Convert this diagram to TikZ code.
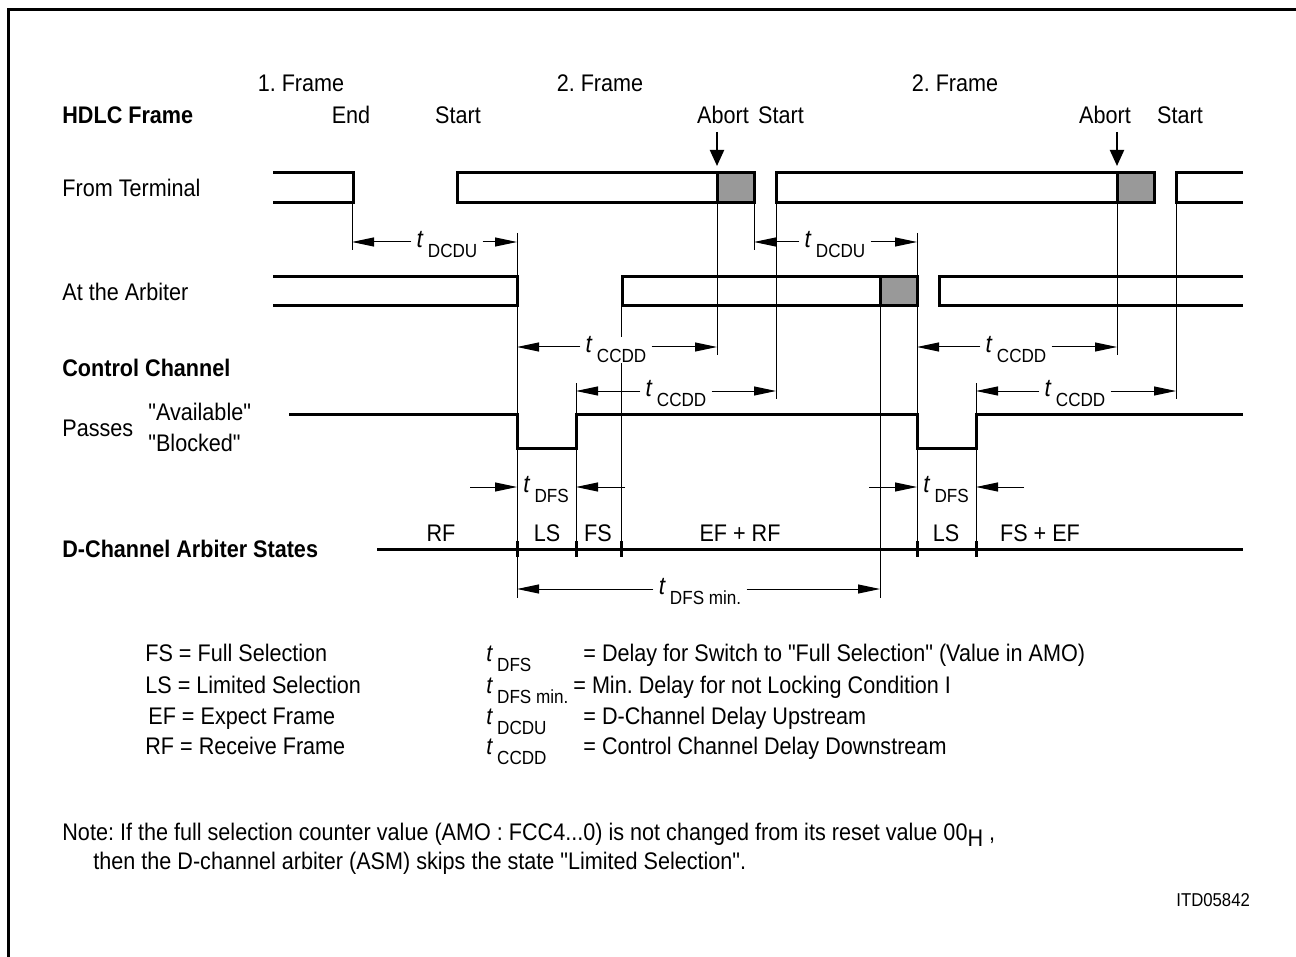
\documentclass[tikz,border=0pt]{standalone}
\usepackage{fontspec}
\setmainfont{Liberation Sans}[FakeStretch=0.9, Ligatures=TeXOff]
\usetikzlibrary{arrows.meta}
\definecolor{framegray}{gray}{0.6}
\frenchspacing
\newcommand{\tsub}[1]{\textit{t}\,\raisebox{-5pt}{\fontsize{9.5}{11}\selectfont #1}}
\newcommand{\dimline}[6]{%
  \coordinate (#1-l) at (#2,#4);
  \coordinate (#1-r) at (#3,#4);
  \node[dimlbl] (#1) at (#5,#4+3) {\tsub{#6}};
  \draw[dim] (#1.west |- #1-l) -- (#1-l);
  \draw[dim] (#1.east |- #1-r) -- (#1-r);
}
\newcommand{\guideline}[4]{%
  \coordinate (#1-t) at (#2,#3);
  \coordinate (#1-b) at (#2,#4);
  \draw[thinline] (#1-t) -- (#1-b);
}
\tikzset{
  txt/.style={inner sep=0pt, font=\fontsize{12}{14}\selectfont},
  lbl/.style={txt, anchor=base west},
  lblc/.style={txt, anchor=base},
  bold/.style={lbl, font=\fontsize{12}{14}\selectfont\bfseries},
  dimlbl/.style={fill=white, inner xsep=2.5pt, inner ysep=0pt, font=\fontsize{12.5}{14}\selectfont},
  framebox/.style={line width=1.5pt, line join=miter},
  grayfill/.style={fill=framegray},
  thinline/.style={line width=0.5pt},
  dim/.style={thinline, -{Triangle[length=11pt,width=4.5pt]}},
  abortarrow/.style={line width=1pt, -{Triangle[length=8pt,width=7pt]}},
  signal/.style={line width=1.5pt, line join=miter},
}
\begin{document}
\begin{tikzpicture}[x=0.5pt,y=-0.5pt]
\useasboundingbox (0,0) rectangle (1296,957);
% outer frame
\draw[line width=1.5pt] (8,957) -- (8,10) -- (1296,10);

% header labels
\node[bold] (hdlc) at (62,124) {HDLC Frame};
\node[lblc] (f1) at (301,92) {1. Frame};
\node[lblc] (end1) at (351,124) {End};
\node[lblc] (start1) at (458,124) {Start};
\node[lblc] (f2) at (600,92) {2. Frame};
\node[lblc] (abort1) at (723,124) {Abort};
\node[lblc] (start2) at (781,124) {Start};
\node[lblc] (f3) at (955,92) {2. Frame};
\node[lblc] (abort2) at (1105,124) {Abort};
\node[lblc] (start3) at (1180,124) {Start};

% abort arrows
\coordinate (ab1-t) at (717,132); \coordinate (ab1-b) at (717,166);
\coordinate (ab2-t) at (1117,132); \coordinate (ab2-b) at (1117,166);
\draw[abortarrow] (ab1-t) -- (ab1-b);
\draw[abortarrow] (ab2-t) -- (ab2-b);

% row labels
\node[lbl] (term) at (62,197) {From Terminal};
\node[lbl] (arb) at (62,300) {At the Arbiter};
\node[bold] (cc) at (62,376) {Control Channel};
\node[lbl] (passes) at (62,436) {Passes};
\node[lbl] (avail) at (148,420) {"Available"};
\node[lbl] (block) at (148,451) {"Blocked"};
\node[bold] (dcas) at (62,557) {D-Channel Arbiter States};

% From terminal frames
\draw[framebox] (273,173) -- (353,173) -- (353,203) -- (273,203);
\path[grayfill] (717,173) rectangle (754,203);
\draw[framebox] (457,173) rectangle (754,203);
\draw[framebox] (717,173) -- (717,203);
\path[grayfill] (1117,173) rectangle (1154,203);
\draw[framebox] (776,173) rectangle (1154,203);
\draw[framebox] (1117,173) -- (1117,203);
\draw[framebox] (1243,173) -- (1176,173) -- (1176,203) -- (1243,203);

% At the arbiter frames
\draw[framebox] (273,277) -- (517,277) -- (517,306) -- (273,306);
\path[grayfill] (880,277) rectangle (917,306);
\draw[framebox] (622,277) rectangle (917,306);
\draw[framebox] (880,277) -- (880,306);
\draw[framebox] (1243,277) -- (939,277) -- (939,306) -- (1243,306);

% control channel signal
\draw[signal] (289,414) -- (517,414) -- (517,448) -- (576,448) -- (576,414)
  -- (917,414) -- (917,448) -- (976,448) -- (976,414) -- (1243,414);

% state line
\draw[line width=1.5pt] (377,549) -- (1243,549);
\foreach \x in {517,576,621,917,976}
  \draw[line width=1.5pt] (\x,541) -- (\x,557);
\node[lblc] (sRF) at (441,541) {RF};
\node[lblc] (sLS1) at (547,541) {LS};
\node[lblc] (sFS) at (598,541) {FS};
\node[lblc] (sEFRF) at (740,541) {EF + RF};
\node[lblc] (sLS2) at (946,541) {LS};
\node[lblc] (sFSEF) at (1040,541) {FS + EF};

% thin vertical guide lines
\guideline{v352}{352}{203}{250}
\guideline{v754}{754}{203}{250}
\guideline{v517}{517}{233}{598}
\guideline{v917}{917}{233}{556}
\guideline{v717}{717}{203}{355}
\guideline{v1117}{1117}{203}{355}
\guideline{v776}{776}{203}{399}
\guideline{v1176}{1176}{203}{399}
\guideline{v576}{576}{383}{556}
\guideline{v976}{976}{383}{556}
\guideline{v621}{621}{306}{556}
\guideline{v880}{880}{306}{598}

% dimension arrows
\dimline{dcdu1}{352}{517}{242}{447}{DCDU}
\dimline{dcdu2}{754}{917}{242}{835}{DCDU}
\dimline{ccdd1}{517}{717}{347}{616}{CCDD}
\dimline{ccdd2}{917}{1117}{347}{1016}{CCDD}
\dimline{ccdd3}{576}{776}{391}{676}{CCDD}
\dimline{ccdd4}{976}{1176}{391}{1075}{CCDD}
\dimline{dfsmin}{517}{880}{589}{700}{DFS min.}

% t_DFS (inward arrows)
\node[dimlbl] (dfs1) at (546,490) {\tsub{DFS}};
\coordinate (dfs1-a) at (470,487); \coordinate (dfs1-b) at (517,487);
\coordinate (dfs1-c) at (625,487); \coordinate (dfs1-d) at (576,487);
\draw[dim] (dfs1-a) -- (dfs1-b);
\draw[dim] (dfs1-c) -- (dfs1-d);
\node[dimlbl] (dfs2) at (946,490) {\tsub{DFS}};
\coordinate (dfs2-a) at (869,487); \coordinate (dfs2-b) at (917,487);
\coordinate (dfs2-c) at (1024,487); \coordinate (dfs2-d) at (976,487);
\draw[dim] (dfs2-a) -- (dfs2-b);
\draw[dim] (dfs2-c) -- (dfs2-d);

% legend
\node[lbl] (lg1) at (145,661) {FS = Full Selection};
\node[lbl] (lg2) at (145,693) {LS = Limited Selection};
\node[lbl] (lg3) at (148,724) {EF = Expect Frame};
\node[lbl] (lg4) at (145,754) {RF = Receive Frame};
\node[lbl] (lt1) at (486,661) {\tsub{DFS}};
\node[lbl] (lt2) at (486,693) {\tsub{DFS min.}};
\node[lbl] (lt3) at (486,724) {\tsub{DCDU}};
\node[lbl] (lt4) at (486,754) {\tsub{CCDD}};
\node[lbl] (ld1) at (583,661) {= Delay for Switch to "Full Selection" (Value in AMO)};
\node[lbl] (ld2) at (573,693) {= Min. Delay for not Locking Condition I};
\node[lbl] (ld3) at (583,724) {= D-Channel Delay Upstream};
\node[lbl] (ld4) at (583,754) {= Control Channel Delay Downstream};

% note
\node[lbl] (note1) at (62,840) {Note: If the full selection counter value (AMO : FCC4...0) is not changed from its reset value 00\raisebox{-3pt}{H} ,};
\node[lbl] (note2) at (93,869) {then the D-channel arbiter (ASM) skips the state "Limited Selection".};
\node[anchor=base west, inner sep=0pt, font=\fontsize{9.3}{11}\selectfont] (itd) at (1176,906) {ITD05842};
\end{tikzpicture}
\end{document}
